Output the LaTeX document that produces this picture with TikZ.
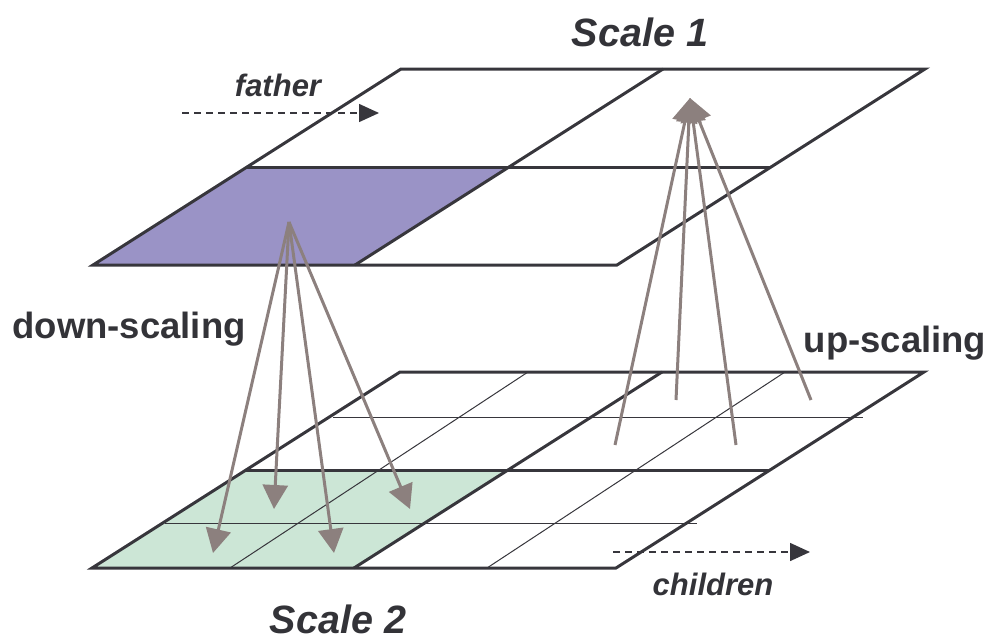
\documentclass[tikz,border=0pt]{standalone}
\usepackage{fontspec}
\setmainfont{Liberation Sans}
\usetikzlibrary{arrows.meta}
\definecolor{gridline}{RGB}{55,54,60}
\definecolor{fatherfill}{RGB}{154,147,198}
\definecolor{childfill}{RGB}{204,230,214}
\definecolor{scalearrow}{RGB}{140,128,126}
\definecolor{labeltext}{RGB}{51,51,56}
\tikzset{
  planeline/.style={draw=gridline, line width=3pt, line join=miter},
  thinline/.style={draw=gridline, line width=1pt},
  scalearr/.style={draw=scalearrow, line width=3pt,
    -{Triangle[length=24pt,width=25pt]}, scalearrow},
  dasharr/.style={draw=gridline, line width=1.5pt, dash pattern=on 7pt off 5pt,
    -{Triangle[length=20pt,width=18pt]}, gridline},
  scalelabel/.style={text=labeltext, anchor=base, inner sep=0pt,
    font=\fontsize{39.5}{44}\selectfont\bfseries\itshape},
  smalllabel/.style={text=labeltext, anchor=base, inner sep=0pt,
    font=\fontsize{31}{36}\selectfont\bfseries\itshape},
  sidelabel/.style={text=labeltext, anchor=base, inner sep=0pt,
    font=\fontsize{36.5}{42}\selectfont\bfseries}
}
\begin{document}
\begin{tikzpicture}[x=1pt,y=-1pt]
\path[use as bounding box] (0,0) rectangle (990,640);

% ---------- top plane (Scale 1) ----------
\begin{scope}[shift={(93,265)}]
  \fill[fatherfill] (0,0) -- (262,0) -- (416,-98) -- (154,-98) -- cycle;
  \draw[planeline] (0,0) -- (524,0) -- (832,-196) -- (308,-196) -- cycle;
  \draw[planeline] (154,-98) -- (678,-98);
  \draw[planeline] (262,0) -- (570,-196);
\end{scope}

% ---------- bottom plane (Scale 2) ----------
\begin{scope}[shift={(92,568)}]
  \fill[childfill] (0,0) -- (262,0) -- (416,-98) -- (154,-98) -- cycle;
\end{scope}
\draw[thinline] (333,417) -- (863,417);
\draw[thinline] (165,523) -- (697,523);
\draw[thinline] (230,568) -- (528,372);
\draw[thinline] (487,568) -- (785,372);
\begin{scope}[shift={(92,568)}]
  \draw[planeline] (0,0) -- (524,0) -- (832,-196) -- (308,-196) -- cycle;
  \draw[planeline] (154,-98) -- (678,-98);
  \draw[planeline] (262,0) -- (570,-196);
\end{scope}

% ---------- labels ----------
\node[scalelabel] (scaleone) at (640,46) {Scale 1};
\node[scalelabel] (scaletwo) at (338,633) {Scale 2};
\node[smalllabel] (father) at (278,96) {father};
\node[smalllabel] (children) at (713,595) {children};
\node[sidelabel] (down) at (129,338) {down-scaling};
\node[sidelabel] (up) at (895,352) {up-scaling};

% ---------- dashed direction arrows ----------
\coordinate (fs) at (182,113);
\coordinate (fe) at (379,113);
\coordinate (cs) at (613,552);
\coordinate (ce) at (810,552);
\draw[dasharr] (fs) -- (fe);
\draw[dasharr] (cs) -- (ce);

% ---------- down-scaling arrows ----------
\coordinate (dsrc) at (289,222);
\coordinate (d1) at (213,553);
\coordinate (d2) at (274,509);
\coordinate (d3) at (334,553);
\coordinate (d4) at (410,509);
\foreach \t in {d1,d2,d3,d4} \draw[scalearr] (dsrc) -- (\t);

% ---------- up-scaling arrows ----------
\coordinate (utip) at (690,98);
\coordinate (u1) at (615,445);
\coordinate (u2) at (676,400);
\coordinate (u3) at (736,445);
\coordinate (u4) at (811,400);
\foreach \s in {u1,u2,u3,u4} \draw[scalearr] (\s) -- (utip);
\end{tikzpicture}
\end{document}
